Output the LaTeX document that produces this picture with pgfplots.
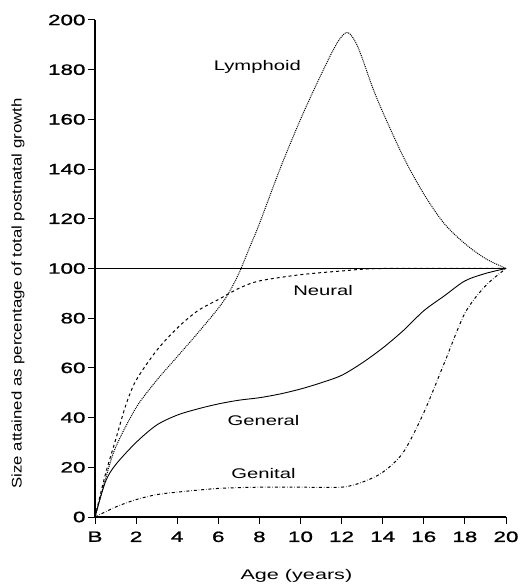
\documentclass[border=0pt]{standalone}
\usepackage{fontspec}
\setmainfont{Liberation Sans}
\newfontfamily\widelab[FakeStretch=1.45]{Liberation Sans}
\newfontfamily\wideylab[FakeStretch=1.2]{Liberation Sans}
\newfontfamily\widexlab[FakeStretch=1.55]{Liberation Sans}
\newfontfamily\widebold[FakeStretch=1.5,FakeBold=1.2]{Liberation Sans}
\usepackage{pgfplots}
\pgfplotsset{compat=1.18}
\begin{document}
\begin{tikzpicture}
\begin{axis}[
  name=ax,
  scale only axis,
  width=411bp, height=497bp,
  xmin=0, xmax=20, ymin=0, ymax=200,
  axis x line*=bottom, axis y line*=left,
  axis line style={-, line width=1.1pt},
  xtick={0,2,...,20},
  xticklabels={B,2,4,6,8,10,12,14,16,18,20},
  ytick={0,20,...,200},
  tick align=outside,
  major tick length=7bp,
  tick style={black, line width=1pt},
  /pgf/number format/assume math mode=true,
  ticklabel style={font=\widebold\fontsize{15}{17}\selectfont},
  xticklabel style={yshift=-4bp},
  yticklabel style={xshift=1bp},
  xlabel={Age (years)},
  ylabel={Size attained as percentage of total postnatal growth},
  xlabel style={font=\widexlab\fontsize{14}{16}\selectfont, at={(axis description cs:0.49,-0.119)}, anchor=center},
  ylabel style={font=\wideylab\fontsize{14}{16}\selectfont, at={(axis description cs:-0.187,0.45)}, anchor=center},
  clip=false,
]
\addplot[black, line width=1pt] coordinates {(0,100) (20,100)};
% Lymphoid
\addplot[black, densely dotted, line width=1pt, smooth] coordinates {
(0,0) (0.5,15) (1,28) (2,44) (3,55) (4,64.5) (5,74) (6,84) (6.5,90) (7,98) (7.5,108) (8,118) (9,140) (10,160) (11,178) (11.8,191) (12.3,195) (12.8,189) (13.5,173) (14,163) (15,145) (16,130) (17,118) (18,110) (19,104) (20,100)};
% Neural
\addplot[black, dashed, line width=1pt, smooth] coordinates {
(0,0) (0.5,17) (1,31) (1.5,45) (2,55) (3,67) (4,76) (5,83) (6,87.5) (7,92) (8,95) (10,97.5) (12,99) (14,100) (20,100)};
% General
\addplot[black, line width=0.9pt, smooth] coordinates {
(0,0) (0.5,14) (1,21) (2,30) (3,37) (4,41) (5,43.5) (6,45.5) (7,47) (8,48) (9,49.5) (10,51.5) (11,54) (12,57) (13,62) (14,68) (15,75) (16,83) (17,89) (18,95) (19,98) (20,100)};
% Genital
\addplot[black, dashdotted, line width=1pt, smooth] coordinates {
(0,0) (1,4) (2,7) (3,9) (4,10) (6,11.5) (8,12) (10,12) (12,12) (13,14) (14,18) (15,26) (16,42) (17,62) (18,82) (19,93) (20,100)};
\node[font=\widelab\fontsize{14}{16}\selectfont] at (axis cs:7.9,181) {Lymphoid};
\node[font=\widelab\fontsize{14}{16}\selectfont] at (axis cs:11.1,91) {Neural};
\node[font=\widelab\fontsize{14}{16}\selectfont] at (axis cs:8.2,39) {General};
\node[font=\widelab\fontsize{14}{16}\selectfont] at (axis cs:8.2,17.7) {Genital};
\end{axis}
\path ([xshift=-95bp,yshift=-69bp]ax.south west) rectangle ([xshift=12bp,yshift=20bp]ax.north east);
\end{tikzpicture}
\end{document}
